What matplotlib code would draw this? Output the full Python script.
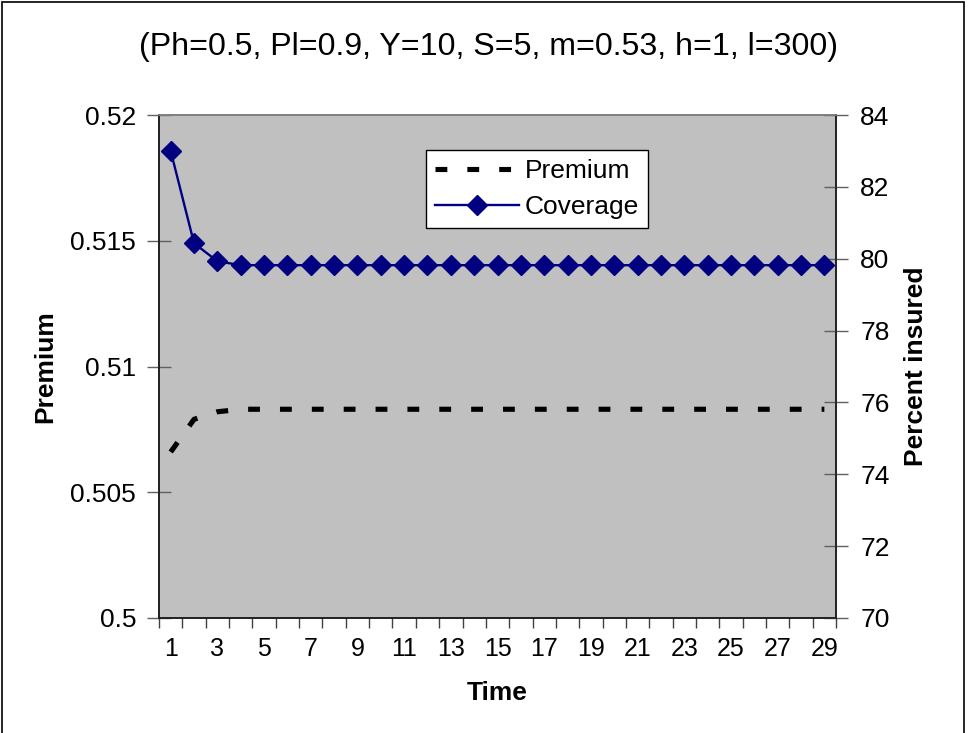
import matplotlib
matplotlib.use("Agg")
import matplotlib.pyplot as plt
from matplotlib.patches import Rectangle

plt.rcParams['font.family'] = ['Liberation Sans', 'DejaVu Sans']

# Series data
time = list(range(1, 30))
premium = [0.5066, 0.5079, 0.5082] + [0.5083] * 26
coverage = [83.0, 80.43, 79.93] + [79.82] * 26

title = "(Ph=0.5, Pl=0.9, Y=10, S=5, m=0.53, h=1, l=300)"
x_ticks = list(range(1, 30, 2))
left_ticks = [0.5, 0.505, 0.51, 0.515, 0.52]
left_labels = ["0.5", "0.505", "0.51", "0.515", "0.52"]
right_ticks = [70, 72, 74, 76, 78, 80, 82, 84]

fig = plt.figure(figsize=(9.72, 7.33), dpi=100)
fig.patch.set_facecolor('white')
fig.add_artist(Rectangle((0.002, -0.01), 0.99, 1.007, transform=fig.transFigure,
                         fill=False, edgecolor='black', linewidth=1.2))

ax = fig.add_axes([0.1636, 0.1569, 0.6965, 0.6862])
ax.set_facecolor('#C0C0C0')
ax2 = ax.twinx()

# Premium on the left axis
lp, = ax.plot(time, premium, color='black', linewidth=3.7,
              dashes=(2.3, 3.9), dash_capstyle='butt', label='Premium')
# Coverage on the right axis
lc, = ax2.plot(time, coverage, color='#000080', linewidth=1.7, marker='D',
               markersize=10.5, markerfacecolor='#000080',
               markeredgecolor='#000080', label='Coverage')

ax.set_xlim(0.5, 29.5)
ax.set_ylim(0.5, 0.52)
ax2.set_ylim(70, 84)

ax.set_xticks(x_ticks)
ax.set_xticks([i + 0.5 for i in range(0, 30)], minor=True)
ax.set_yticks(left_ticks)
ax.set_yticklabels(left_labels)
ax2.set_yticks(right_ticks)

ax.tick_params(axis='x', which='major', length=0, labelsize=18, pad=14)
ax.tick_params(axis='x', which='minor', length=7, width=1, color='#404040',
               direction='out')
ax.tick_params(axis='y', length=17, width=1, color='#606060', direction='inout',
               labelsize=19, pad=8)
ax2.tick_params(axis='y', length=17, width=1, color='#606060', direction='inout',
                labelsize=19, pad=9)

for a in (ax, ax2):
    for s in a.spines.values():
        s.set_color('#202020')
        s.set_linewidth(1.2)
ax.spines['top'].set_color('#808080')
ax2.spines['top'].set_color('#808080')

ax.set_xlabel('Time', fontsize=19, fontweight='bold', labelpad=14)
ax.set_ylabel('Premium', fontsize=19, fontweight='bold', labelpad=9.5)
ax2.set_ylabel('Percent insured', fontsize=19, fontweight='bold', labelpad=10.5)

fig.text(0.503, 0.936, title, ha='center', va='center', fontsize=23.1)

leg = ax2.legend(handles=[lp, lc], loc='upper left',
                 bbox_to_anchor=(0.394, 0.931), fontsize=19,
                 frameon=True, fancybox=False, edgecolor='black',
                 framealpha=1, handlelength=3.2, handletextpad=0.2,
                 borderpad=0.35, labelspacing=0.45, borderaxespad=0)
leg.get_frame().set_linewidth(1.0)

fig.savefig('out.png', dpi=100, facecolor='white')
